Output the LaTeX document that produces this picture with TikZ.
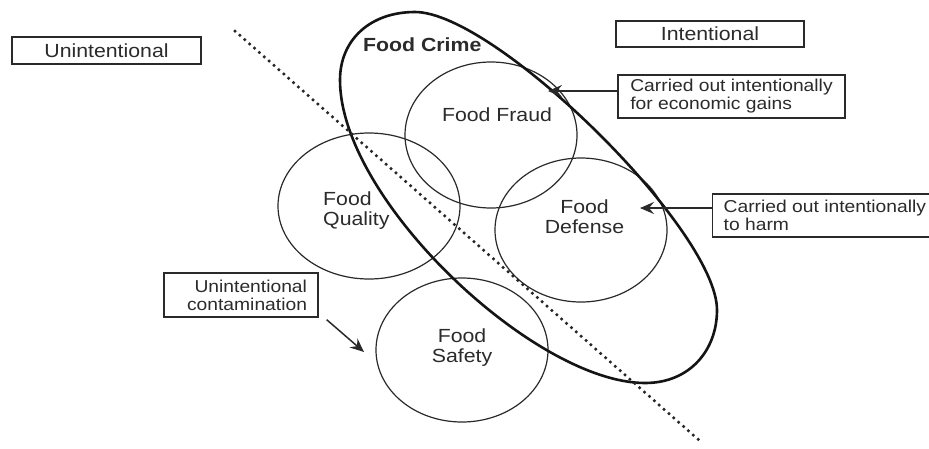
\documentclass[tikz,border=0pt]{standalone}
\usepackage{fontspec}
\setmainfont[FakeStretch=1.12]{Liberation Sans}
\usetikzlibrary{arrows.meta,shapes.geometric}
\definecolor{ink}{HTML}{2B2B2B}
\definecolor{edge}{HTML}{2A2A2A}
\begin{document}
\begin{tikzpicture}[x=1pt,y=-1pt,
  lbl/.style={font=\fontsize{19}{20.5}\selectfont, text=ink, inner sep=0pt},
  small/.style={font=\fontsize{17.2}{18}\selectfont, text=ink},
  circ/.style={draw=edge, line width=1.2pt, ellipse, inner sep=0pt},
  box/.style={draw=edge, line width=1.4pt, rectangle, inner ysep=0pt},
  arr/.style={draw=edge, line width=1.5pt, -{Stealth[length=14pt,width=12pt,inset=5pt]}},
  crime/.style={draw=black!92, line width=2.6pt},
  dotline/.style={draw=black!85, line width=3.5pt, line cap=round, dash pattern=on 0pt off 6.5pt},
]
\fill[white] (0,0) rectangle (929,448);
\useasboundingbox (0,0) rectangle (929,448);

% circles
\node[circ, minimum width=172, minimum height=146] (fraudC) at (491,135) {};
\node[circ, minimum width=172, minimum height=144] (defC) at (581,230) {};
\node[circ, minimum width=182, minimum height=146] (qualC) at (369,206) {};
\node[circ, minimum width=172, minimum height=144] (safeC) at (462,350) {};

% food crime outline
\draw[crime] (415,12) .. controls (495,12) and (717,230) .. (717,310)
  .. controls (717,350) and (690,383) .. (645,383)
  .. controls (535,383) and (340,200) .. (340,80)
  .. controls (340,40) and (370,12) .. (415,12) -- cycle;

% dotted divider
\coordinate (d1) at (235,31);
\coordinate (d2) at (700,441);
\draw[dotline] (d1) -- (d2);

% labels
\node[lbl, anchor=base] (fraud) at (497,121) {Food Fraud};
\node[lbl, anchor=base, text width=120, align=center] (def) at (584.5,213) {Food\\Defense};
\node[lbl, anchor=base west, text width=100, align=left] (qual) at (323,205) {Food\\Quality};
\node[lbl, anchor=base, text width=100, align=center] (safe) at (462,342) {Food\\Safety};
\node[lbl, font=\fontsize{19}{20.5}\selectfont\bfseries, anchor=base west] (crime) at (363,51) {Food Crime};

% boxes
\node[box, lbl, minimum width=189, minimum height=27] (unint) at (106.5,50.5) {Unintentional};
\node[box, lbl, minimum width=188, minimum height=26] (intent) at (710,34) {Intentional};
\node[box, small, align=left, minimum width=227, minimum height=43] (box1) at (731.5,96.5) {Carried out intentionally\\for economic gains};
\node[box, small, align=left, inner xsep=11pt, minimum height=43, anchor=west] (box2) at (712,215.5) {Carried out intentionally\\to harm};
\node[box, small, align=right, text width=132, inner xsep=11pt, minimum height=44] (box3) at (241,295) {Unintentional\\contamination};

% arrows
\coordinate (t1) at (548,91);
\draw[arr] (box1.west |- t1) -- (t1);
\coordinate (t2) at (640,208);
\draw[arr] (box2.west |- t2) -- (t2);
\coordinate (t3) at (364,352);
\draw[arr] ([shift={(8,2)}]box3.south east) -- (t3);
\end{tikzpicture}
\end{document}
